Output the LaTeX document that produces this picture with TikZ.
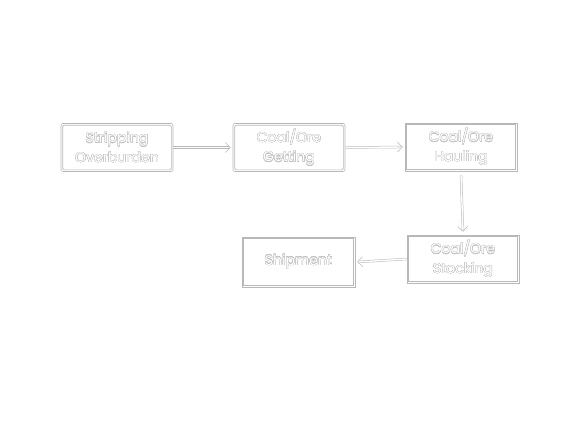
\documentclass[tikz,border=0pt]{standalone}
\usepackage{fontspec}
\setmainfont{Poppins}
\usepackage[copies]{contour}
\contourlength{0.28pt}
\contournumber{16}
\usetikzlibrary{arrows.meta}
\definecolor{boxc}{HTML}{B8B8B8}
\definecolor{txtc}{HTML}{C2C2C2}
\newcommand{\otext}[1]{\contour{txtc}{#1}}
\begin{document}
\begin{tikzpicture}[x=1pt,y=-1pt,
  procbox/.style={draw=boxc, line width=0.6pt,
    minimum width=112pt, minimum height=48pt, inner sep=0pt, align=center,
    font=\fontsize{14}{19.5}\selectfont, text=white},
  inner/.style={draw=boxc, line width=0.6pt},
  conn/.style={draw=boxc, double=white, double distance=1.4pt, line width=0.5pt,
    -{Straight Barb[length=5pt,width=10pt]}}]
\useasboundingbox (0,0) rectangle (577,433);
\fill[white] (0,0) rectangle (577,433);
\node[procbox, rounded corners=2pt] (strip) at (117,147.5) {\otext{Stripping}\\\otext{Overburden}};
\node[procbox, rounded corners=2pt] (get) at (289,147.5) {\otext{Coal/Ore}\\\otext{Getting}};
\node[procbox] (haul) at (461,147) {\otext{Coal/Ore}\\\otext{Hauling}};
\node[procbox] (stock) at (463,259) {\otext{Coal/Ore}\\\otext{Stocking}};
\node[procbox, minimum width=113pt, minimum height=50pt] (ship) at (298.5,262) {\raisebox{4.5pt}{\otext{Shipment}}};
\foreach \n/\r in {strip/1.5pt,get/1.5pt,haul/0pt,stock/0pt,ship/0pt}{
  \draw[inner, rounded corners=\r] ([shift={(2,2)}]\n.north west) rectangle ([shift={(-2,-2)}]\n.south east);
}
\draw[conn] (strip.east) -- ([xshift=-2pt]get.west);
\draw[conn] (get.east) -- ([xshift=-2pt]haul.west);
\draw[conn] ([yshift=-4pt]haul.south) -- ([yshift=3pt]stock.north);
\draw[conn] (stock.west) -- ([xshift=2pt]ship.east);
\end{tikzpicture}
\end{document}
